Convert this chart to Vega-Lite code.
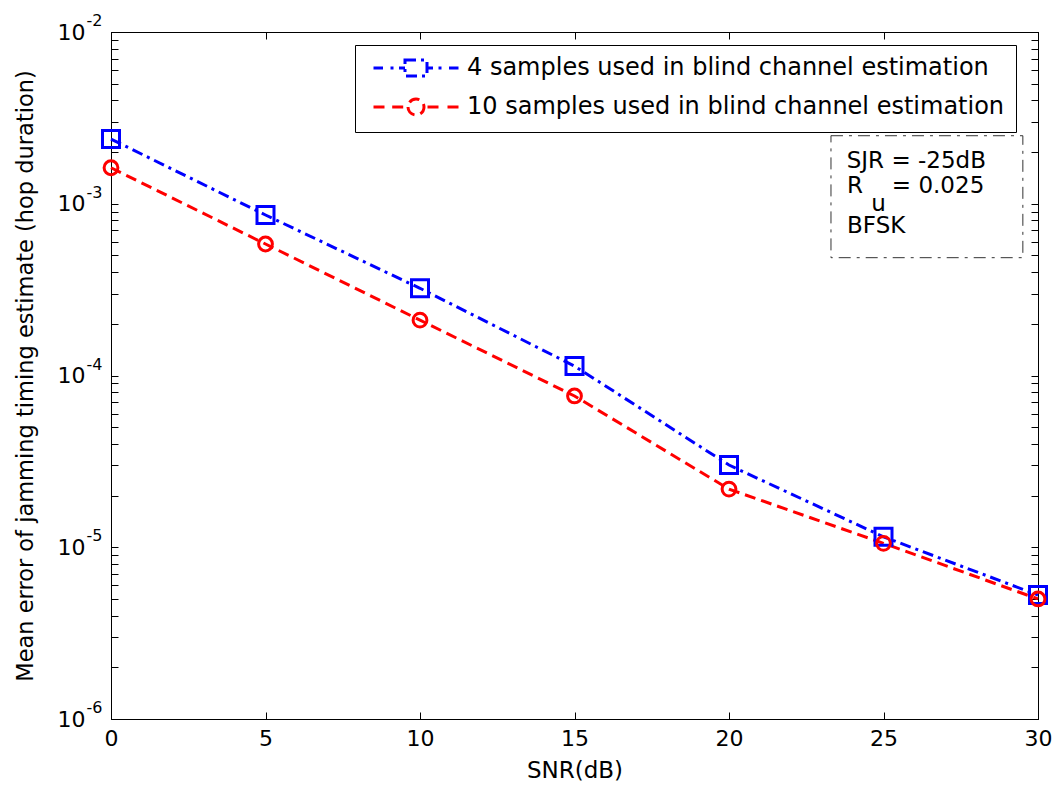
{
  "$schema": "https://vega.github.io/schema/vega-lite/v6.json",
  "width": 927,
  "height": 687,
  "autosize": {"type": "none"},
  "padding": {"left": 111, "top": 32, "right": 24, "bottom": 70},
  "background": "white",
  "config": {
    "font": "DejaVu Sans",
    "view": {"stroke": "black", "strokeWidth": 1},
    "axis": {
      "grid": false,
      "domainColor": "black",
      "domainWidth": 1,
      "tickColor": "black",
      "tickWidth": 1,
      "labelColor": "black",
      "titleColor": "black",
      "titleFontWeight": "normal",
      "labelFont": "DejaVu Sans",
      "titleFont": "DejaVu Sans"
    }
  },
  "data": {
    "values": [
      {"snr": 0, "err": 0.00238, "series": "4 samples used in blind channel estimation"},
      {"snr": 5, "err": 0.00086, "series": "4 samples used in blind channel estimation"},
      {"snr": 10, "err": 0.000322, "series": "4 samples used in blind channel estimation"},
      {"snr": 15, "err": 0.0001135, "series": "4 samples used in blind channel estimation"},
      {"snr": 20, "err": 0.0000301, "series": "4 samples used in blind channel estimation"},
      {"snr": 25, "err": 0.0000115, "series": "4 samples used in blind channel estimation"},
      {"snr": 30, "err": 0.00000527, "series": "4 samples used in blind channel estimation"},
      {"snr": 0, "err": 0.00162, "series": "10 samples used in blind channel estimation"},
      {"snr": 5, "err": 0.000583, "series": "10 samples used in blind channel estimation"},
      {"snr": 10, "err": 0.00021, "series": "10 samples used in blind channel estimation"},
      {"snr": 15, "err": 0.000076, "series": "10 samples used in blind channel estimation"},
      {"snr": 20, "err": 0.0000218, "series": "10 samples used in blind channel estimation"},
      {"snr": 25, "err": 0.00001054, "series": "10 samples used in blind channel estimation"},
      {"snr": 30, "err": 0.000005, "series": "10 samples used in blind channel estimation"}
    ]
  },
  "layer": [
    {
      "mark": {"type": "line", "strokeWidth": 3},
      "encoding": {
        "x": {
          "field": "snr", "type": "quantitative",
          "scale": {"domain": [0, 30], "nice": false, "zero": false},
          "axis": {
            "orient": "bottom", "values": [0, 5, 10, 15, 20, 25, 30],
            "tickSize": -7, "labelFontSize": 22, "labelPadding": 16, "labelFlush": false,
            "title": "SNR(dB)", "titleFontSize": 23, "titlePadding": 10
          }
        },
        "y": {
          "field": "err", "type": "quantitative",
          "scale": {"type": "log", "domain": [0.000001, 0.01], "nice": false},
          "axis": {
            "orient": "left",
            "values": [0.000001, 0.000002, 0.000003, 0.000004, 0.000005, 0.000006, 0.000007, 0.000008, 0.000009,
                       0.00001, 0.00002, 0.00003, 0.00004, 0.00005, 0.00006, 0.00007, 0.00008, 0.00009,
                       0.0001, 0.0002, 0.0003, 0.0004, 0.0005, 0.0006, 0.0007, 0.0008, 0.0009,
                       0.001, 0.002, 0.003, 0.004, 0.005, 0.006, 0.007, 0.008, 0.009, 0.01],
            "tickSize": -7, "labelFontSize": 22, "labelPadding": 33,
            "labelOverlap": false, "labelBound": false, "labelFlush": false,
            "labelExpr": "(datum.value == 0.01 || datum.value == 0.001 || datum.value == 0.0001 || datum.value == 0.00001 || datum.value == 0.000001) ? '10' : ''",
            "title": "Mean error of jamming timing estimate (hop duration)",
            "titleFontSize": 22.5, "titlePadding": 20
          }
        },
        "color": {
          "field": "series", "type": "nominal",
          "scale": {
            "domain": ["4 samples used in blind channel estimation", "10 samples used in blind channel estimation"],
            "range": ["#0000ff", "#ff0000"]
          },
          "legend": {
            "orient": "none", "legendX": 244, "legendY": 13,
            "title": null, "direction": "vertical",
            "strokeColor": "black", "fillColor": "white", "padding": 11,
            "labelFontSize": 24, "labelFont": "DejaVu Sans", "labelColor": "black", "labelLimit": 1000,
            "symbolSize": 400, "symbolStrokeWidth": 3, "symbolOffset": 38, "labelOffset": 39,
            "rowPadding": 11,
            "encode": {
              "symbols": {
                "update": {
                  "shape": {"signal": "datum.value == '4 samples used in blind channel estimation' ? 'M-4.25,0L-3.3,0M-2.55,0L-2.25,0M-1.7,0L-1.1,0M-1.1,-0.8L1.1,-0.8L1.1,0.8L-1.1,0.8ZM1.1,0L1.7,0M2.25,0L2.55,0M3.3,0L4.25,0' : 'M-4.25,0L-3.15,0M-2.38,0L-1.15,0M-0.8,0A0.8,0.8,0,1,0,0.8,0A0.8,0.8,0,1,0,-0.8,0M1.15,0L2.38,0M3.15,0L4.25,0'"},
                  "fill": {"value": "transparent"},
                  "strokeDash": {"value": []}
                }
              }
            }
          }
        },
        "strokeDash": {
          "field": "series", "type": "nominal",
          "scale": {
            "domain": ["4 samples used in blind channel estimation", "10 samples used in blind channel estimation"],
            "range": [[11, 5, 3, 5], [11, 6]]
          },
          "legend": null
        }
      }
    },
    {
      "transform": [{"filter": "datum.series == '4 samples used in blind channel estimation'"}],
      "mark": {"type": "point", "shape": "square", "size": 289, "filled": false, "stroke": "#0000ff", "strokeWidth": 3, "opacity": 1},
      "encoding": {
        "x": {
          "field": "snr", "type": "quantitative",
          "axis": {"orient": "top", "values": [0, 5, 10, 15, 20, 25, 30], "tickSize": -7, "labels": false, "title": null}
        },
        "y": {
          "field": "err", "type": "quantitative",
          "axis": {
            "orient": "right",
            "values": [0.000001, 0.000002, 0.000003, 0.000004, 0.000005, 0.000006, 0.000007, 0.000008, 0.000009,
                       0.00001, 0.00002, 0.00003, 0.00004, 0.00005, 0.00006, 0.00007, 0.00008, 0.00009,
                       0.0001, 0.0002, 0.0003, 0.0004, 0.0005, 0.0006, 0.0007, 0.0008, 0.0009,
                       0.001, 0.002, 0.003, 0.004, 0.005, 0.006, 0.007, 0.008, 0.009, 0.01],
            "tickSize": -7, "labels": false, "title": null
          }
        }
      }
    },
    {
      "transform": [{"filter": "datum.series == '10 samples used in blind channel estimation'"}],
      "mark": {"type": "point", "shape": "circle", "size": 190, "filled": false, "stroke": "#ff0000", "strokeWidth": 3, "opacity": 1},
      "encoding": {
        "x": {"field": "snr", "type": "quantitative", "axis": null},
        "y": {"field": "err", "type": "quantitative", "axis": null}
      }
    },
    {
      "data": {"values": [{}]},
      "mark": {"type": "rect", "fill": "white", "stroke": "#333333", "strokeWidth": 1, "strokeDash": [12, 6, 3, 6]},
      "encoding": {
        "x": {"datum": 23.3, "type": "quantitative", "axis": null},
        "x2": {"datum": 29.51},
        "y": {
          "datum": 0.002489, "type": "quantitative",
          "axis": {
            "orient": "left", "values": [0.000001, 0.00001, 0.0001, 0.001, 0.01],
            "tickSize": -7, "tickOpacity": 0, "domain": false,
            "labelFontSize": 16, "labelAlign": "left", "labelPadding": 32, "labelOffset": -11.5,
            "labelOverlap": false, "labelBound": false, "labelFlush": false,
            "labelExpr": "datum.value == 0.01 ? '-2' : datum.value == 0.001 ? '-3' : datum.value == 0.0001 ? '-4' : datum.value == 0.00001 ? '-5' : '-6'",
            "title": null
          }
        },
        "y2": {"datum": 0.0004853}
      }
    },
    {
      "data": {"values": [{}]},
      "mark": {"type": "text", "text": "SJR = -25dB", "align": "left", "baseline": "alphabetic", "fontSize": 23, "color": "black"},
      "encoding": {
        "x": {"datum": 23.81, "type": "quantitative", "axis": null},
        "y": {"datum": 0.001615, "type": "quantitative", "axis": null}
      }
    },
    {
      "data": {"values": [{}]},
      "mark": {"type": "text", "text": "R", "align": "left", "baseline": "alphabetic", "fontSize": 23, "color": "black"},
      "encoding": {
        "x": {"datum": 23.82, "type": "quantitative", "axis": null},
        "y": {"datum": 0.00115, "type": "quantitative", "axis": null}
      }
    },
    {
      "data": {"values": [{}]},
      "mark": {"type": "text", "text": "u", "align": "left", "baseline": "alphabetic", "fontSize": 23, "color": "black"},
      "encoding": {
        "x": {"datum": 24.6, "type": "quantitative", "axis": null},
        "y": {"datum": 0.00091, "type": "quantitative", "axis": null}
      }
    },
    {
      "data": {"values": [{}]},
      "mark": {"type": "text", "text": "= 0.025", "align": "left", "baseline": "alphabetic", "fontSize": 23, "color": "black"},
      "encoding": {
        "x": {"datum": 25.27, "type": "quantitative", "axis": null},
        "y": {"datum": 0.00115, "type": "quantitative", "axis": null}
      }
    },
    {
      "data": {"values": [{}]},
      "mark": {"type": "text", "text": "BFSK", "align": "left", "baseline": "alphabetic", "fontSize": 23, "color": "black"},
      "encoding": {
        "x": {"datum": 23.82, "type": "quantitative", "axis": null},
        "y": {"datum": 0.000673, "type": "quantitative", "axis": null}
      }
    }
  ],
  "resolve": {"axis": {"x": "independent", "y": "independent"}}
}
